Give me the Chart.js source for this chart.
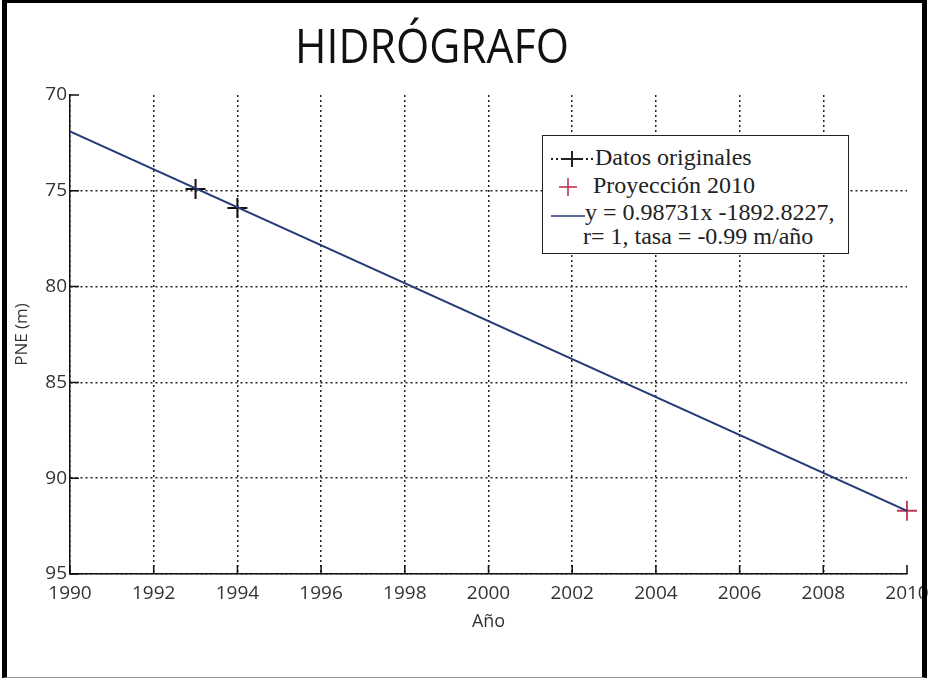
<!DOCTYPE html>
<html lang="es">
<head>
    <meta charset="UTF-8">
    <title>Hidrógrafo</title>
    <script src="https://cdn.jsdelivr.net/npm/chart.js@4"></script>
    <style>
        body { margin: 0; background: #fff; }
        #contenedor { position: relative; width: 930px; height: 680px; }
        #marco {
            position: absolute; left: 2px; top: 0; width: 915px; height: 674px;
            border-left: 5px solid #000; border-top: 3px solid #000;
            border-right: 5px solid #000; border-bottom: 1px solid #999;
            pointer-events: none;
        }
        #titulo {
            position: absolute; left: 232px; top: 17px; width: 400px; text-align: center;
            font-family: "Open Sans", sans-serif; font-size: 48px; color: #111;
            transform: scaleX(0.89); margin: 0; font-weight: normal; line-height: 56px;
        }
        #leyenda {
            position: absolute; left: 542px; top: 135px; width: 305px; height: 117px;
            border: 1.5px solid #222; background: #fff;
            font-family: "Liberation Serif", "Times New Roman", serif; font-size: 24px; color: #222;
        }
        .fila { position: absolute; white-space: nowrap; line-height: 26px; }
        .fila svg { vertical-align: middle; }
    </style>
</head>
<body>
<div id="contenedor">
    <canvas id="grafico" width="930" height="680"></canvas>
    <h1 id="titulo">HIDRÓGRAFO</h1>
    <div id="leyenda">
        <div class="fila" style="left:6px; top:8px;">
            <svg width="46" height="20"><line x1="2" y1="10" x2="44" y2="10" stroke="#222" stroke-width="2" stroke-dasharray="2,3"/><line x1="13" y1="10" x2="33" y2="10" stroke="#222" stroke-width="2"/><line x1="23" y1="2" x2="23" y2="18" stroke="#222" stroke-width="2"/></svg>Datos originales
        </div>
        <div class="fila" style="left:6px; top:36px;">
            <svg width="44" height="20"><line x1="10" y1="10" x2="28" y2="10" stroke="#c2334f" stroke-width="1.6"/><line x1="19" y1="1" x2="19" y2="19" stroke="#c2334f" stroke-width="1.6"/></svg>Proyección 2010
        </div>
        <div class="fila" style="left:6px; top:63px;">
            <svg width="36" height="20"><line x1="2" y1="12" x2="36" y2="12" stroke="#283a75" stroke-width="1.6"/></svg>y = 0.98731x -1892.8227,
        </div>
        <div class="fila" style="left:40px; top:87px;">r= 1, tasa = -0.99 m/año</div>
    </div>
    <div id="marco"></div>
</div>

<script>
    // Datos
    const aniosOriginales = [1993, 1994];
    const pneOriginales = [74.9, 75.9];
    const anioProyeccion = [2010];
    const pneProyeccion = [91.7];
    const aniosAjuste = [1990, 2010];
    const pneAjuste = [71.9, 91.7];
    const ticksX = [1990, 1992, 1994, 1996, 1998, 2000, 2002, 2004, 2006, 2008, 2010];
    const ticksY = [70, 75, 80, 85, 90, 95];

    const aPuntos = (xs, ys) => xs.map((x, i) => ({ x: x, y: ys[i] }));

    // Marcas de eje hacia dentro, como en el original
    const marcasInternas = {
        id: 'marcasInternas',
        afterDraw(chart) {
            const ctx = chart.ctx;
            const area = chart.chartArea;
            const sx = chart.scales.x, sy = chart.scales.y;
            ctx.save();
            ctx.strokeStyle = '#111';
            ctx.lineWidth = 1.5;
            ctx.beginPath();
            ticksX.forEach(v => {
                const px = sx.getPixelForValue(v);
                ctx.moveTo(px, area.bottom);
                ctx.lineTo(px, area.bottom - 9);
            });
            ticksY.forEach(v => {
                const py = sy.getPixelForValue(v);
                ctx.moveTo(area.left, py);
                ctx.lineTo(area.left + 9, py);
            });
            ctx.stroke();
            ctx.restore();
        }
    };

    const fuenteEjes = { family: 'Open Sans', size: 19 };

    new Chart(document.getElementById('grafico'), {
        type: 'scatter',
        data: {
            datasets: [
                {
                    label: 'Ajuste',
                    data: aPuntos(aniosAjuste, pneAjuste),
                    showLine: true,
                    borderColor: '#283a75',
                    borderWidth: 2,
                    pointRadius: 0
                },
                {
                    label: 'Datos originales',
                    data: aPuntos(aniosOriginales, pneOriginales),
                    pointStyle: 'cross',
                    pointRadius: 10,
                    borderColor: '#111',
                    borderWidth: 2
                },
                {
                    label: 'Proyección 2010',
                    data: aPuntos(anioProyeccion, pneProyeccion),
                    pointStyle: 'cross',
                    pointRadius: 10,
                    borderColor: '#c2334f',
                    borderWidth: 1.8,
                    clip: false
                }
            ]
        },
        options: {
            responsive: false,
            animation: false,
            layout: { padding: { top: 95, right: 23, left: 0, bottom: 46 } },
            plugins: {
                legend: { display: false },
                tooltip: { enabled: false }
            },
            scales: {
                x: {
                    type: 'linear',
                    min: 1990,
                    max: 2010,
                    afterFit: (s) => { s.height = 60; s.paddingRight = 0; s.paddingLeft = 0; },
                    afterBuildTicks: (s) => { s.ticks = ticksX.map(v => ({ value: v })); },
                    ticks: { font: fuenteEjes, color: '#333', padding: 8, callback: v => String(v) },
                    grid: {
                        drawTicks: false,
                        color: (c) => (c.tick && c.tick.value === 2010) ? 'rgba(0,0,0,0)' : '#222',
                        lineWidth: 1.5
                    },
                    border: { display: true, color: '#111', width: 1.5, dash: [2, 3] },
                    title: { display: true, text: 'Año', font: { family: 'Open Sans', size: 18 }, color: '#333', padding: { top: 0, bottom: 1 } }
                },
                y: {
                    reverse: true,
                    min: 70,
                    max: 95,
                    afterFit: (s) => { s.width = 70; },
                    afterBuildTicks: (s) => { s.ticks = ticksY.map(v => ({ value: v })); },
                    ticks: { font: fuenteEjes, color: '#333', padding: 3 },
                    grid: {
                        drawTicks: false,
                        color: (c) => (c.tick && c.tick.value === 70) ? 'rgba(0,0,0,0)' : '#222',
                        lineWidth: 1.5
                    },
                    border: { display: true, color: '#111', width: 1.5, dash: [2, 3] },
                    title: { display: true, text: 'PNE (m)', font: { family: 'Open Sans', size: 17 }, color: '#333', padding: { top: 12, bottom: 0 } }
                }
            }
        },
        plugins: [marcasInternas]
    });
</script>
</body>
</html>
